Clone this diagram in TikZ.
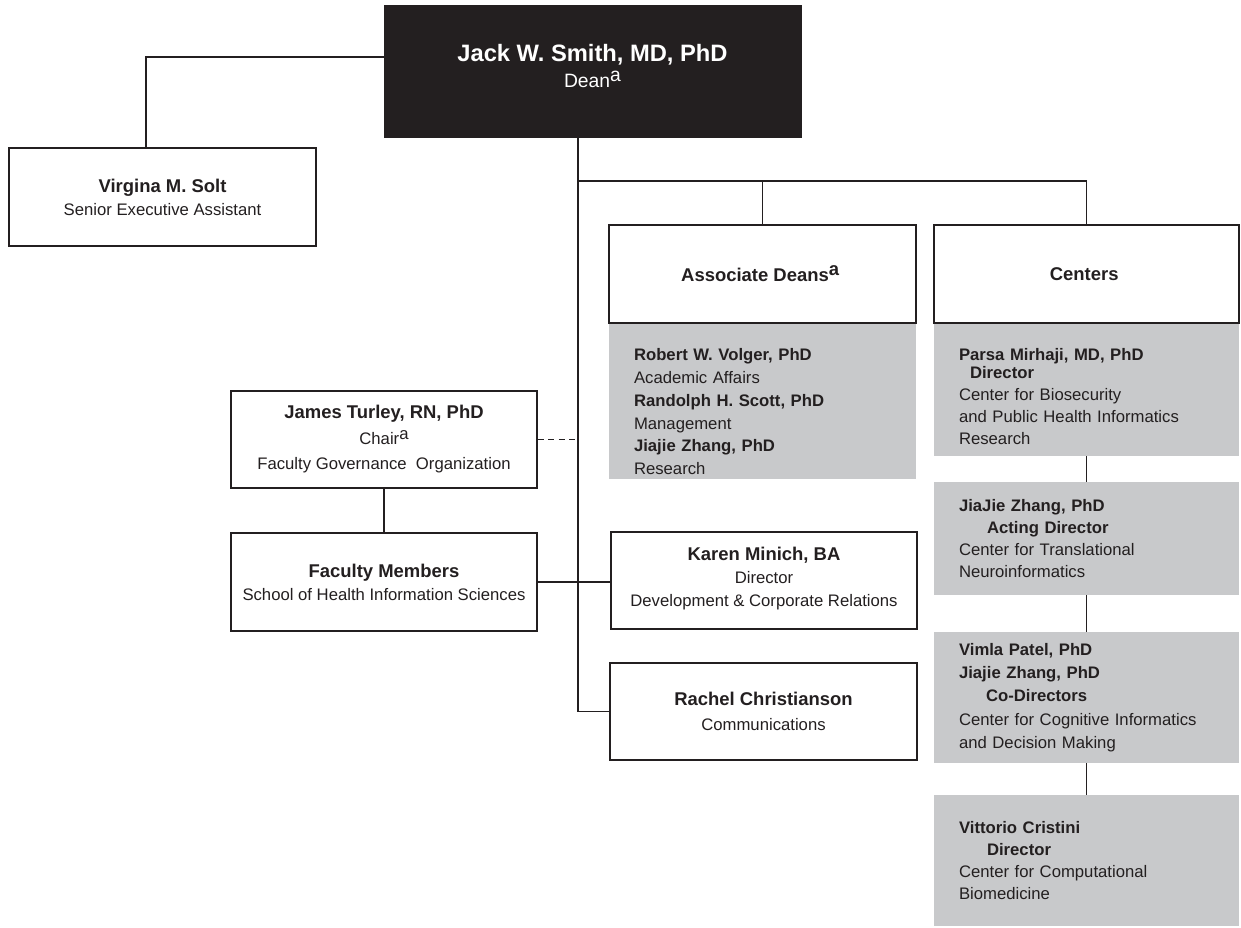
\documentclass[tikz,border=0pt]{standalone}
\usepackage{fontspec}
\setmainfont{Liberation Sans}
\usepackage{tikz}

\definecolor{deanfill}{RGB}{35,31,32}
\definecolor{boxgray}{RGB}{200,201,203}
\definecolor{ink}{RGB}{35,31,32}

\newcommand{\who}[1]{{\bfseries\fontsize{10.5}{13}\selectfont #1}}
\newcommand{\supa}{\raisebox{0.6ex}{a}}

\begin{document}
\begin{tikzpicture}[x=0.02cm, y=-0.02cm,
    deanbox/.style={fill=deanfill, draw=deanfill, text=white, align=center, minimum width=8.34cm, minimum height=2.64cm, inner sep=0pt, font=\fontsize{11}{15}\selectfont},
    whitebox/.style={draw=ink, line width=0.7pt, fill=white, text=ink, align=center, minimum width=6.14cm, minimum height=1.96cm, inner sep=0pt, font=\fontsize{9.5}{13}\selectfont},
    graybox/.style={fill=boxgray, text=ink, align=left, inner xsep=0.5cm, inner ysep=0pt, text width=5.1cm, font=\fontsize{9.5}{12.5}\selectfont},
    link/.style={draw=ink, line width=0.7pt}
  ]

    \useasboundingbox (0,0) rectangle (1241,927);

    % Dean
    \node[deanbox] (dean) at (592.5,71) {
    {\fontsize{13.5}{16}\selectfont\bfseries Jack W. Smith, MD, PhD}\\ Dean\supa\rule[-6pt]{0pt}{6pt}
    };

    % Assistant
    \node[whitebox] (solt) at (162.5,197) {
    \who{Virgina M. Solt}\\ Senior Executive Assistant
    };

    % Associate Deans
    \node[graybox, text width=5.14cm, minimum height=3.12cm, font=\fontsize{9.5}{13}\selectfont] (deans) at (762.5,401) {
    \rule{0pt}{19pt}\textbf{Robert W. Volger, PhD}\\ Academic Affairs\\ \textbf{Randolph H. Scott, PhD}\\ Management\\ \textbf{Jiajie Zhang, PhD}\\ Research
    };
    \node[whitebox] (assoc) at (762.5,274) {
    \who{Associate Deans\supa}
    };

    % Centers
    \node[graybox, minimum height=2.66cm] (biosec) at (1086.5,389.5) {
    \rule{0pt}{15pt}\textbf{Parsa Mirhaji, MD, PhD}\\[-2pt] \hspace*{0.22cm}\textbf{Director}\\ Center for Biosecurity\\ and Public Health Informatics\\ Research
    };
    \node[whitebox, minimum width=6.1cm] (centers) at (1086.5,274) {
    \who{Centers}
    };
    \node[graybox, minimum height=2.26cm] (neuro) at (1086.5,538.5) {
    \textbf{JiaJie Zhang, PhD}\\ \hspace*{0.56cm}\textbf{Acting Director}\\ Center for Translational\\ Neuroinformatics
    };
    \node[graybox, minimum height=2.62cm, font=\fontsize{9.5}{13.3}\selectfont] (cognitive) at (1086.5,697.5) {
    \textbf{Vimla Patel, PhD}\\ \textbf{Jiajie Zhang, PhD}\\ \hspace*{0.54cm}\textbf{Co-Directors}\\ Center for Cognitive Informatics\\ and Decision Making
    };
    \node[graybox, minimum height=2.62cm] (compbio) at (1086.5,860.5) {
    \textbf{Vittorio Cristini}\\ \hspace*{0.56cm}\textbf{Director}\\ Center for Computational\\ Biomedicine
    };

    % Faculty side
    \node[whitebox, minimum width=6.12cm, minimum height=1.94cm] (turley) at (384,439.5) {
    \who{James Turley, RN, PhD}\\[1.5pt] Chair\supa\\[1.5pt] Faculty Governance\ \ Organization
    };
    \node[whitebox, minimum width=6.12cm] (faculty) at (384,582) {
    \who{Faculty Members}\\ School of Health Information Sciences
    };

    % Staff
    \node[whitebox, minimum width=6.12cm, minimum height=1.94cm] (karen) at (764,580.5) {
    \who{Karen Minich, BA}\\ Director\\ Development \& Corporate Relations\rule[-4pt]{0pt}{4pt}
    };
    \node[whitebox, minimum height=1.94cm] (rachel) at (763.5,711.5) {
    \who{Rachel Christianson}\\[1pt] Communications
    };

    % Connections
    \coordinate (trunk) at ([xshift=-0.29cm]dean.south);
    \coordinate (split) at (trunk |- 0,181);
    \draw[link] ([xshift=-0.33cm]solt.north) |- ([yshift=0.28cm]dean.west);
    \draw[link] (trunk) |- (rachel.west);
    \draw[link] (split) -| (assoc.north);
    \draw[link] (split) -| (centers.north);
    \draw[link, dash pattern=on 3.5pt off 2.5pt] (turley.east) -- (turley.east -| trunk);
    \draw[link] (turley) -- (faculty);
    \draw[link] (faculty.east) -- (faculty.east -| karen.west);
    \draw[link] (biosec) -- (neuro);
    \draw[link] (neuro) -- (cognitive);
    \draw[link] (cognitive) -- (compbio);

\end{tikzpicture}
\end{document}
